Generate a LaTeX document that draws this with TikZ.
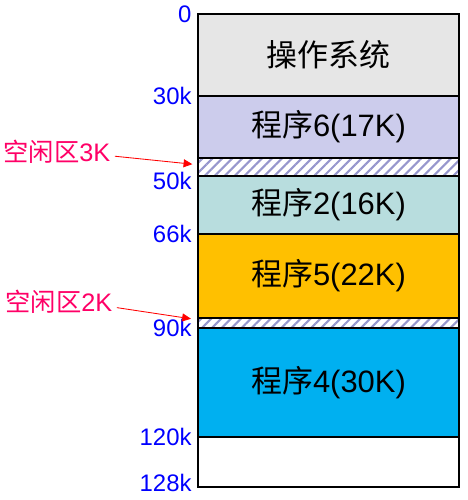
\documentclass[tikz,border=0pt]{standalone}
\usepackage{fontspec}
\setmainfont{Liberation Sans}
\newfontfamily\cjk{Noto Sans CJK SC}
\usetikzlibrary{positioning, arrows.meta, patterns.meta}
\definecolor{osgray}{RGB}{230,230,230}
\definecolor{lavender}{RGB}{204,204,236}
\definecolor{paleteal}{RGB}{184,221,222}
\definecolor{amber}{RGB}{255,192,0}
\definecolor{skyblue}{RGB}{0,176,240}
\definecolor{hatchblue}{RGB}{150,150,205}
\definecolor{addrblue}{RGB}{0,0,255}
\definecolor{freered}{RGB}{255,0,102}

\begin{document}
\begin{tikzpicture}[
                mem/.style={rectangle, draw=black, line width=1.6pt, outer sep=0pt, inner sep=0pt,
                            minimum width=6.525cm, font=\fontsize{22}{25}\selectfont},
                hole/.style={mem, pattern={Lines[angle=45, distance=5pt, line width=1.5pt]},
                             pattern color=hatchblue},
                addr/.style={font=\fontsize{17}{20}\selectfont, text=addrblue, inner sep=1pt},
                tag/.style={font=\fontsize{18}{21}\selectfont, text=freered, inner sep=1pt},
                arr/.style={-{Triangle[length=2.2mm, width=2mm]}, red, line width=0.6pt}
            ]
                \useasboundingbox (0,0) rectangle (11.7,-12.5);

                \node[mem, fill=osgray, minimum height=2.05cm, anchor=north west] (os) at (4.95,-0.35) {{\cjk 操作系统}};
                \node[mem, fill=lavender, minimum height=1.55cm, below=0pt of os] (prog6) {{\cjk 程序}6(17K)};
                \node[hole, minimum height=0.45cm, below=0pt of prog6] (free3) {};
                \node[mem, fill=paleteal, minimum height=1.45cm, below=0pt of free3] (prog2) {{\cjk 程序}2(16K)};
                \node[mem, fill=amber, minimum height=2.1cm, below=0pt of prog2] (prog5) {{\cjk 程序}5(22K)};
                \node[hole, minimum height=0.25cm, below=0pt of prog5] (free2) {};
                \node[mem, fill=skyblue, minimum height=2.725cm, below=0pt of free2] (prog4) {{\cjk 程序}4(30K)};
                \node[mem, fill=white, minimum height=1.25cm, below=0pt of prog4] (rest) {};

                \node[addr, left=0.12cm of os.north west] (a0) {0};
                \node[addr, left=0.12cm of prog6.north west] (a30) {30k};
                \node[addr, left=0.12cm of prog2.north west, yshift=-0.12cm] (a50) {50k};
                \node[addr, left=0.12cm of prog5.north west] (a66) {66k};
                \node[addr, left=0.12cm of prog4.north west] (a90) {90k};
                \node[addr, left=0.12cm of rest.north west] (a120) {120k};
                \node[addr, left=0.12cm of rest.south west, yshift=0.1cm] (a128) {128k};

                \node[tag, left=2.15cm of free3.west, yshift=0.375cm] (tag3) {{\cjk 空闲区}3K};
                \node[tag, left=2.1cm of free2.west, yshift=0.525cm] (tag2) {{\cjk 空闲区}2K};

                \draw[arr] ([xshift=2pt, yshift=-3pt]tag3.east) -- ([xshift=-4pt, yshift=2pt]free3.west);
                \draw[arr] ([xshift=2pt, yshift=-4pt]tag2.east) -- ([xshift=-5pt, yshift=3pt]free2.west);
            \end{tikzpicture}
\end{document}
